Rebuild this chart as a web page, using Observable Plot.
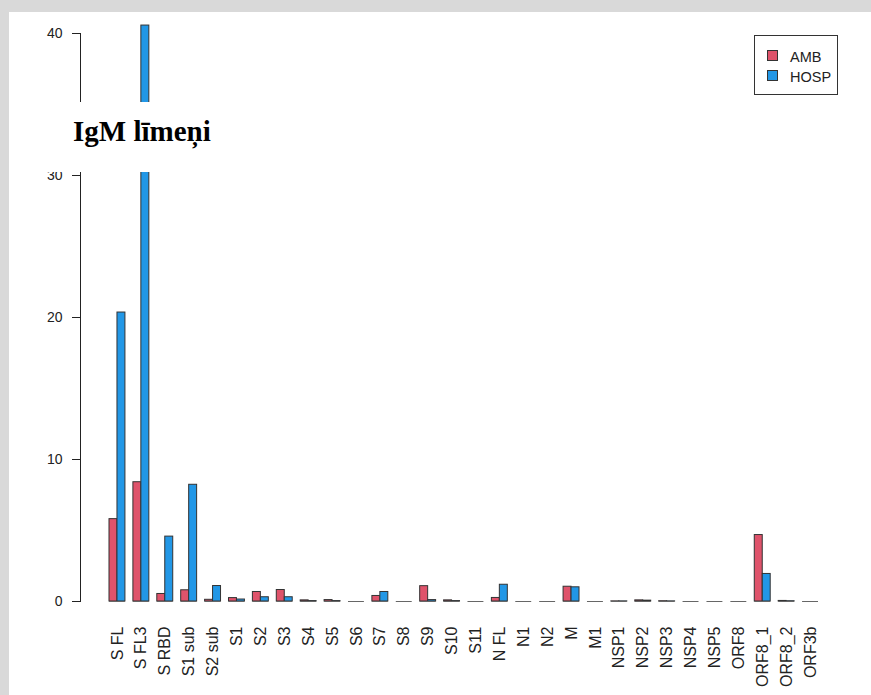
<!DOCTYPE html>
<html>
<head>
<meta charset="utf-8">
<script src="https://cdn.jsdelivr.net/npm/d3@7"></script>
<script src="https://cdn.jsdelivr.net/npm/@observablehq/plot@0.6"></script>
<style>
html, body { margin: 0; padding: 0; background: #d9d9d9; width: 871px; height: 695px; overflow: hidden; }
#panel { position: absolute; left: 9px; top: 12px; width: 862px; height: 683px; background: #fff; }
#chart { position: absolute; left: 0; top: 0; }
#band { position: absolute; left: 9px; top: 102px; width: 862px; height: 70px; background: #fff; }
#title { position: absolute; left: 73px; top: 117px; font: bold 29px/29px "Liberation Serif", "Times New Roman", serif; color: #000; white-space: nowrap; }
#legend { position: absolute; left: 754px; top: 35px; width: 84px; height: 60px; box-sizing: border-box; border: 1px solid #333; background: #fff; font: 14.5px/14px "Liberation Sans", Arial, sans-serif; color: #222; }
#legend .sw { position: absolute; left: 12px; width: 11px; height: 11px; box-sizing: border-box; border: 1px solid #333; }
#legend .lb { position: absolute; left: 35px; white-space: nowrap; }
</style>
</head>
<body>
<div id="panel"></div>
<div id="chart"></div>
<div id="band"></div>
<div id="title">IgM līmeņi</div>
<div id="legend"></div>
<script>
const categories = ["S FL","S FL3","S RBD","S1 sub","S2 sub","S1","S2","S3","S4","S5","S6","S7","S8","S9","S10","S11","N FL","N1","N2","M","M1","NSP1","NSP2","NSP3","NSP4","NSP5","ORF8","ORF8_1","ORF8_2","ORF3b"];
const amb  = [5.8, 8.4, 0.53, 0.79, 0.12, 0.24, 0.67, 0.81, 0.08, 0.1, 0, 0.39, 0, 1.08, 0.08, 0, 0.25, 0, 0, 1.04, 0, 0.01, 0.08, 0.02, 0, 0, 0, 4.68, 0.04, 0];
const hosp = [20.35, 40.56, 4.57, 8.22, 1.09, 0.14, 0.3, 0.3, 0.03, 0.03, 0, 0.67, 0, 0.1, 0.03, 0, 1.18, 0, 0, 1.0, 0, 0.01, 0.06, 0.01, 0, 0, 0, 1.94, 0.02, 0];
const groups = ["AMB", "HOSP"];
const colors = ["#DF536B", "#2297E6"];
const yTicks = [0, 10, 20, 30, 40];

const rows = categories.flatMap((c, i) => [
  {category: c, group: "AMB", value: amb[i]},
  {category: c, group: "HOSP", value: hosp[i]}
]);

const W = 871, H = 695, ML = 80, MR = 24, MT = 33, MB = 94;
const padInner = 1 / 3, padOuter = 1.2134;
const step = (W - ML - MR) / (categories.length - padInner + 2 * padOuter);
const half = step * (1 - padInner) / 2;

const chart = Plot.plot({
  width: W, height: H,
  marginLeft: ML, marginRight: MR, marginTop: MT, marginBottom: MB,
  style: {background: "transparent", fontFamily: "'Liberation Sans', Arial, sans-serif", color: "#222", overflow: "visible"},
  x: {type: "band", domain: categories, paddingInner: padInner, paddingOuter: padOuter, align: 0.5, round: false},
  y: {domain: [0, 40]},
  marks: [
    Plot.frame({anchor: "left", stroke: "#222"}),
    Plot.axisY({ticks: yTicks, tickSize: 8, tickPadding: 10, fontSize: 14, label: null, stroke: "#222"}),
    Plot.axisX({tickRotate: -90, tickSize: 0, tickPadding: 25, fontSize: 16, label: null}),
    Plot.barY(rows.filter(d => d.group === "AMB"), {x: "category", y: "value", fill: colors[0], stroke: "#333", strokeWidth: 1, insetRight: half}),
    Plot.barY(rows.filter(d => d.group === "HOSP"), {x: "category", y: "value", fill: colors[1], stroke: "#333", strokeWidth: 1, insetLeft: half}),
    Plot.tickY(categories, {x: d => d, y: () => 0, stroke: "#666", strokeWidth: 1})
  ]
});
document.getElementById("chart").appendChild(chart);

const legend = document.getElementById("legend");
groups.forEach((g, i) => {
  const sw = document.createElement("div");
  sw.className = "sw";
  sw.style.top = (14 + i * 20) + "px";
  sw.style.background = colors[i];
  legend.appendChild(sw);
  const lb = document.createElement("div");
  lb.className = "lb";
  lb.style.top = (14 + i * 20) + "px";
  lb.textContent = g;
  legend.appendChild(lb);
});
</script>
</body>
</html>
